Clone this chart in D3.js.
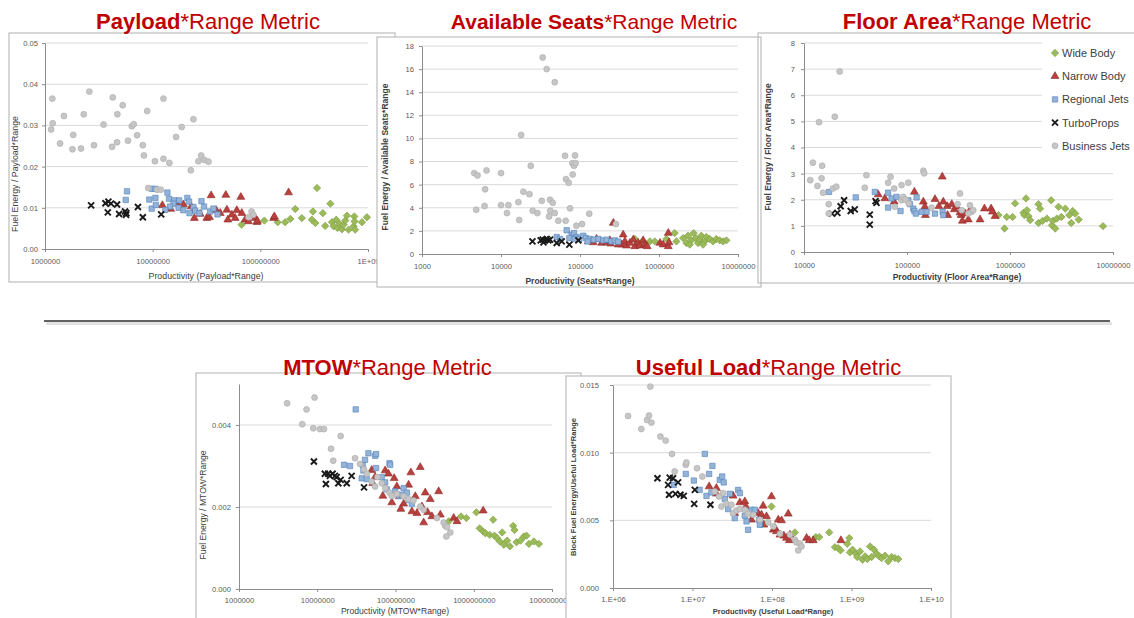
<!DOCTYPE html>
<html><head><meta charset="utf-8">
<script src="https://cdn.jsdelivr.net/npm/d3@7"></script>
<style>
body{margin:0;background:#fff;}
svg{display:block;font-family:"Liberation Sans",Arial,sans-serif;}
</style>
</head><body>
<svg id="c" width="1134" height="618"></svg>
<script>
// ---------- DATA: [productivity, fuel energy / productivity] ----------
const seriesNames = ["Wide Body","Narrow Body","Regional Jets","TurboProps","Business Jets"];

// Payload*Range
const payloadWide = [[6.7e7,0.0059],[1.09e8,0.0069],[1.45e8,0.0065],[1.7e8,0.0065],[1.9e8,0.0073],[2.11e8,0.0097],[2.43e8,0.0075],[3.01e8,0.0071],[3.08e8,0.0091],[3.24e8,0.0063],[3.36e8,0.0148],[3.81e8,0.0087],[4.0e8,0.0056],[4.47e8,0.011],[4.62e8,0.0065],[4.79e8,0.0055],[5.07e8,0.0071],[5.22e8,0.0051],[5.45e8,0.0061],[5.73e8,0.0048],[5.93e8,0.0059],[6.15e8,0.0069],[6.37e8,0.0081],[6.6e8,0.0047],[7.35e8,0.0055],[7.46e8,0.0079],[7.5e8,0.0067],[7.6e8,0.0047],[8.79e8,0.0065],[9.77e8,0.0077]];
const payloadNarrow = [[1.23e7,0.0106],[1.47e7,0.0097],[1.67e7,0.0113],[1.93e7,0.0108],[2.28e7,0.0103],[2.48e7,0.0094],[2.44e7,0.0075],[2.76e7,0.0085],[3.18e7,0.0075],[3.37e7,0.0077],[3.49e7,0.013],[3.89e7,0.0094],[4.24e7,0.0087],[4.78e7,0.0131],[4.89e7,0.0095],[4.99e7,0.0071],[5.44e7,0.0083],[5.84e7,0.0075],[6.05e7,0.0094],[6.59e7,0.0126],[6.73e7,0.0087],[7.23e7,0.0071],[7.76e7,0.0067],[8.95e7,0.0075],[9.3e7,0.0065],[9.4e7,0.0068],[1.33e8,0.0075],[1.35e8,0.0079],[1.83e8,0.0137]];
const payloadRegional = [[5.78e6,0.014],[5.62e6,0.0119],[9.3e6,0.012],[1.06e7,0.0124],[9.9e6,0.0146],[1.06e7,0.0146],[9.8e6,0.0098],[1.07e7,0.0107],[1.37e7,0.0137],[1.42e7,0.0122],[1.59e7,0.0118],[1.76e7,0.0118],[1.56e7,0.011],[1.45e7,0.0103],[1.31e7,0.0095],[1.74e7,0.01],[1.93e7,0.0094],[2.1e7,0.0124],[2.18e7,0.0115],[2.39e7,0.0102],[2.48e7,0.0093],[2.84e7,0.0116],[3.0e7,0.0103],[3.42e7,0.0091],[3.67e7,0.0098],[4.0e7,0.0084],[2.2e7,0.0087],[2.72e7,0.0087]];
const payloadTurbo = [[2.68e6,0.0106],[3.64e6,0.0111],[3.88e6,0.0115],[4.1e6,0.011],[3.83e6,0.0089],[4.67e6,0.0108],[4.88e6,0.0085],[5.54e6,0.0091],[5.66e6,0.0083],[5.7e6,0.0087],[7.3e6,0.0102],[8.1e6,0.0077],[1.2e7,0.0084]];
const payloadBusiness = [[1.14e6,0.029],[1.17e6,0.0365],[1.18e6,0.0305],[1.38e6,0.0256],[1.5e6,0.0323],[1.8e6,0.0242],[1.83e6,0.0277],[2.16e6,0.0244],[2.29e6,0.0327],[2.58e6,0.0382],[2.85e6,0.0252],[3.5e6,0.0302],[4.2e6,0.0248],[4.26e6,0.0368],[4.67e6,0.0259],[4.7e6,0.0327],[5.27e6,0.0349],[5.9e6,0.0263],[6.4e6,0.0298],[6.67e6,0.0303],[7.17e6,0.0276],[8.1e6,0.0252],[8.3e6,0.0227],[8.9e6,0.0335],[1.05e7,0.0213],[1.26e7,0.0365],[1.26e7,0.0219],[1.43e7,0.0209],[1.65e7,0.0272],[1.86e7,0.0296],[2.26e7,0.0191],[2.39e7,0.0315],[2.66e7,0.0213],[2.82e7,0.0227],[3.02e7,0.0216],[3.3e7,0.0212],[9.1e6,0.0148],[1.1e7,0.0144],[1.19e7,0.0144],[8.3e7,0.0091],[8.6e7,0.0083],[7.76e7,0.0077]];

// Available Seats*Range
const seatsWide = [[4.95e5,1.3],[6.19e5,1.09],[7.66e5,1.09],[8.86e5,1.09],[1.24e6,1.3],[1.58e6,1.81],[1.66e6,1.09],[2.02e6,1.38],[2.22e6,0.95],[2.33e6,1.58],[2.57e6,1.18],[2.75e6,1.81],[2.92e6,1.38],[3.12e6,0.95],[3.28e6,1.24],[3.44e6,1.58],[3.79e6,1.09],[3.98e6,1.47],[4.39e6,1.3],[4.83e6,1.09],[5.32e6,1.3],[5.86e6,1.18],[6.47e6,1.09],[7.13e6,1.18],[2.45e6,0.81],[3.61e6,0.81]];
const seatsNarrow = [[1.27e5,1.09],[1.47e5,1.0],[1.62e5,1.3],[1.88e5,0.95],[2.17e5,1.0],[2.44e5,0.89],[2.64e5,2.68],[3.36e5,0.81],[3.52e5,1.67],[3.7e5,1.09],[3.88e5,0.72],[4.28e5,0.95],[4.72e5,1.24],[4.95e5,0.66],[5.46e5,0.95],[5.73e5,0.72],[6.31e5,1.18],[6.62e5,0.81],[7.09e5,0.66],[1.03e6,0.95],[1.13e6,0.81],[1.31e6,1.81],[1.31e6,0.66],[1.34e6,1.0],[2.39e5,1.18],[3.05e5,0.81]];
const seatsRegional = [[5.07e4,1.47],[5.59e4,1.3],[6.79e4,2.05],[7.85e4,1.67],[8.4e4,1.81],[9.07e4,1.47],[9.8e4,1.3],[1.1e5,1.58],[1.19e5,1.38],[1.34e5,1.3],[1.5e5,1.24],[1.71e5,1.3],[1.97e5,1.18],[2.17e5,1.24],[2.51e5,1.09],[2.77e5,1.18],[3.05e5,1.07],[7.33e4,1.38],[8.65e4,1.3],[1.25e5,1.09]];
const seatsTurbo = [[2.5e4,1.09],[3.18e4,1.18],[3.37e4,1.24],[3.61e4,1.18],[3.79e4,1.3],[3.98e4,1.18],[4.18e4,1.24],[5.07e4,0.95],[5.87e4,1.09],[7.33e4,0.81],[9.53e4,1.18],[3.45e4,1.0]];
const seatsBusiness = [[4.58e3,7.0],[5.05e3,6.8],[4.86e3,3.83],[6.3e3,5.6],[6.56e3,7.23],[6.19e3,4.15],[1.0e4,7.0],[1.0e4,4.23],[1.19e4,3.54],[1.24e4,4.23],[1.66e4,4.49],[1.7e4,2.94],[1.8e4,10.3],[1.92e4,5.39],[2.29e4,5.18],[2.38e4,7.63],[2.52e4,3.74],[2.89e4,3.54],[3.28e4,4.6],[3.37e4,17.0],[3.79e4,16.0],[4.06e4,3.25],[4.18e4,4.69],[4.2e4,3.74],[4.52e4,4.43],[4.79e4,14.86],[4.79e4,3.54],[5.32e4,2.88],[6.47e4,8.5],[6.59e4,2.88],[6.65e4,6.48],[7.19e4,6.16],[7.48e4,3.95],[8.0e4,7.86],[8.08e4,6.88],[8.4e4,7.63],[8.65e4,8.53],[8.8e4,7.86],[9.0e4,2.45],[1.06e5,2.59],[1.31e5,3.49],[2.85e5,2.59]];

// Floor Area*Range
const floorWide = [[7.73e5,1.41],[8.84e5,0.9],[9.3e5,1.34],[1.06e6,1.34],[1.12e6,1.86],[1.35e6,1.5],[1.38e6,1.41],[1.43e6,2.05],[1.46e6,1.6],[1.51e6,1.37],[1.57e6,1.22],[1.89e6,1.83],[1.96e6,1.66],[1.89e6,1.11],[2.07e6,1.19],[2.28e6,1.28],[2.51e6,1.98],[2.55e6,1.02],[2.61e6,1.19],[2.75e6,0.9],[2.85e6,1.28],[2.96e6,1.73],[3.15e6,1.34],[3.44e6,1.66],[3.76e6,1.41],[3.93e6,1.11],[4.05e6,1.57],[4.3e6,1.47],[4.64e6,1.24],[8.0e6,0.99]];
const floorNarrow = [[5.25e4,2.2],[6.1e4,2.05],[7.51e4,1.92],[1.18e5,2.3],[1.44e5,1.92],[1.49e5,1.73],[1.51e5,1.41],[1.87e5,2.02],[2.04e5,1.75],[2.2e5,2.88],[2.25e5,1.92],[2.46e5,1.75],[2.48e5,1.41],[2.72e5,1.83],[2.88e5,1.63],[3.04e5,1.73],[3.27e5,1.51],[3.35e5,1.41],[3.45e5,1.19],[3.66e5,1.47],[3.94e5,1.24],[4.09e5,1.6],[5.12e5,1.24],[5.65e5,1.66],[6.55e5,1.66],[6.75e5,1.54],[7.16e5,1.37]];
const floorRegional = [[1.75e4,2.3],[3.18e4,2.09],[4.87e4,2.3],[6.56e4,2.27],[6.56e4,1.7],[7.08e4,2.05],[7.91e4,2.11],[8.65e4,1.57],[1.03e5,1.98],[1.07e5,1.83],[1.15e5,1.66],[1.24e5,2.09],[1.18e5,1.57],[1.22e5,1.47],[1.39e5,1.54],[1.55e5,1.54],[1.87e5,1.47],[2.22e5,1.54],[2.25e5,1.41]];
const floorTurbo = [[1.87e4,1.47],[2.11e4,1.5],[2.27e4,1.75],[2.45e4,1.98],[2.84e4,1.57],[3.11e4,1.63],[4.35e4,1.43],[4.35e4,1.05],[4.95e4,1.95],[5.06e4,1.88]];
const floorBusiness = [[1.15e4,2.75],[1.22e4,3.42],[1.35e4,2.53],[1.4e4,4.97],[1.48e4,2.82],[1.5e4,3.3],[1.53e4,2.27],[1.74e4,1.83],[1.74e4,1.47],[1.91e4,2.43],[1.99e4,5.18],[2.06e4,2.5],[2.22e4,6.91],[3.89e4,2.46],[4.04e4,2.94],[6.56e4,2.65],[6.92e4,2.88],[7.51e4,2.43],[8.85e4,2.56],[8.85e4,1.98],[9.18e4,2.11],[9.68e4,2.01],[1.03e5,2.65],[1.04e5,1.86],[1.44e5,3.11],[1.47e5,3.01],[1.73e5,1.69],[3.27e5,2.24],[3.1e5,1.83],[3.4e5,1.6],[4.09e5,1.79],[4.25e5,1.54],[4.4e5,1.6],[3.94e5,1.47],[7.62e4,1.73]];

// MTOW*Range
const mtowWide = [[4.78e8,0.00165],[6.88e8,0.00177],[8.05e8,0.00173],[1.08e9,0.00187],[1.19e9,0.00148],[1.32e9,0.0014],[1.41e9,0.00136],[1.6e9,0.00132],[1.77e9,0.00169],[1.84e9,0.0013],[1.99e9,0.00124],[2.15e9,0.00116],[2.31e9,0.00138],[2.43e9,0.00108],[2.67e9,0.00118],[2.9e9,0.00104],[3.19e9,0.00154],[3.32e9,0.00144],[3.52e9,0.00114],[3.96e9,0.00118],[4.37e9,0.00128],[4.73e9,0.0013],[5.07e9,0.0011],[5.87e9,0.00116],[6.81e9,0.0011]];
const mtowNarrow = [[4.97e7,0.0029],[5.12e7,0.00258],[5.49e7,0.00273],[6.89e7,0.00227],[7.38e7,0.00289],[8.13e7,0.00281],[8.97e7,0.00211],[9.62e7,0.0027],[1.04e8,0.0025],[1.12e8,0.00226],[1.17e8,0.00195],[1.27e8,0.00208],[1.47e8,0.00254],[1.57e8,0.00284],[1.62e8,0.00189],[1.79e8,0.00226],[1.88e8,0.00185],[2.07e8,0.00297],[2.18e8,0.00201],[2.29e8,0.00162],[2.4e8,0.00235],[2.57e8,0.00187],[2.78e8,0.00219],[2.92e8,0.00177],[3.56e8,0.00238],[3.74e8,0.00181],[5.54e8,0.00173],[6.11e8,0.00165],[1.32e9,0.00191]];
const mtowRegional = [[3.1e7,0.00438],[2.2e7,0.00303],[2.62e7,0.003],[3.81e7,0.00303],[4.08e7,0.00315],[4.51e7,0.00331],[5.49e7,0.00325],[5.65e7,0.00329],[5.65e7,0.00295],[3.89e7,0.00289],[3.7e7,0.0027],[4.29e7,0.00268],[6.68e7,0.00273],[7.38e7,0.0026],[8.38e7,0.00307],[8.55e7,0.00303],[7.74e7,0.00243],[9.9e7,0.00238],[1.12e8,0.00227],[1.27e8,0.00246],[1.4e8,0.00235],[1.47e8,0.00217],[1.62e8,0.00208],[1.21e8,0.0023]];
const mtowTurbo = [[9.06e6,0.00311],[1.25e7,0.00281],[1.29e7,0.00256],[1.38e7,0.00281],[1.45e7,0.00276],[1.57e7,0.00281],[1.68e7,0.00276],[1.77e7,0.00273],[1.86e7,0.00258],[1.99e7,0.00266],[2.38e7,0.00258],[2.75e7,0.00276],[3.96e7,0.00248]];
const mtowBusiness = [[4.12e6,0.00453],[6.43e6,0.00402],[7.3e6,0.00438],[8.89e6,0.00392],[9.24e6,0.00467],[1.08e7,0.0039],[1.22e7,0.0039],[1.5e7,0.00342],[1.6e7,0.00313],[1.99e7,0.00373],[3.04e7,0.00319],[3.52e7,0.00305],[3.96e7,0.00292],[4.29e7,0.00281],[4.97e7,0.00262],[5.49e7,0.0025],[5.88e7,0.00273],[6.68e7,0.00258],[7.38e7,0.00246],[8.38e7,0.00235],[8.97e7,0.00227],[1.04e8,0.00232],[1.27e8,0.00226],[1.47e8,0.00219],[1.7e8,0.00216],[2.07e8,0.00201],[2.29e8,0.00193],[3.39e8,0.00173],[4.12e8,0.00162],[4.33e8,0.00154],[4.55e8,0.00151],[5.02e8,0.00138],[4.46e8,0.00128]];

// Useful Load*Range
const usefulWide = [[9.86e7,0.00602],[1.94e8,0.00411],[3.56e8,0.00376],[3.93e8,0.00376],[5.25e8,0.00411],[6.18e8,0.00302],[6.81e8,0.00295],[7.28e8,0.00278],[8.85e8,0.00327],[9.37e8,0.00369],[9.55e8,0.00263],[1.03e9,0.00283],[1.14e9,0.00253],[1.18e9,0.00229],[1.28e9,0.0027],[1.38e9,0.00209],[1.48e9,0.00234],[1.58e9,0.00214],[1.71e9,0.00307],[1.79e9,0.00229],[1.92e9,0.00283],[2.07e9,0.00253],[2.24e9,0.00234],[2.39e9,0.00221],[2.64e9,0.00239],[2.9e9,0.00197],[3.2e9,0.00229],[3.52e9,0.00221],[3.88e9,0.00214]];
const usefulNarrow = [[1.62e7,0.0075],[2.0e7,0.00738],[2.0e7,0.00696],[3.24e7,0.00681],[3.4e7,0.00553],[3.94e7,0.00632],[4.55e7,0.00639],[4.69e7,0.00602],[5.52e7,0.00504],[6.7e7,0.00553],[7.38e7,0.00541],[7.74e7,0.00607],[7.89e7,0.00467],[8.53e7,0.00529],[9.86e7,0.00676],[1.04e8,0.0043],[1.09e8,0.00443],[1.14e8,0.00418],[1.2e8,0.00504],[1.26e8,0.00393],[1.32e8,0.00499],[1.41e8,0.00386],[1.52e8,0.00369],[1.6e8,0.00548],[1.65e8,0.00352],[1.68e8,0.00393],[2.72e8,0.00369],[2.94e8,0.00352],[3.3e8,0.00352],[7.36e8,0.00352]];
const usefulRegional = [[5.81e6,0.00762],[8.23e6,0.00843],[1.04e7,0.00794],[1.23e7,0.00725],[1.43e7,0.00991],[1.5e7,0.00681],[1.62e7,0.00843],[1.78e7,0.00902],[1.73e7,0.00706],[2.2e7,0.00799],[2.36e7,0.00824],[2.47e7,0.0078],[2.55e7,0.00657],[2.81e7,0.00583],[2.95e7,0.00696],[3.4e7,0.00516],[3.75e7,0.00725],[3.94e7,0.00701],[4.55e7,0.00534],[4.78e7,0.00492],[5.01e7,0.0043],[5.52e7,0.00578],[6.08e7,0.00578],[6.89e7,0.00504],[7.03e7,0.00467]];
const usefulTurbo = [[3.62e6,0.00811],[4.93e6,0.00762],[5.07e6,0.00689],[5.17e6,0.00816],[5.69e6,0.00811],[6.1e6,0.00696],[6.58e6,0.0078],[7.05e6,0.00689],[7.76e6,0.00681],[1.07e7,0.00725],[1.05e7,0.00622],[1.68e7,0.00615]];
const usefulBusiness = [[1.55e6,0.01271],[2.27e6,0.01175],[2.68e6,0.01242],[2.84e6,0.01274],[2.95e6,0.01488],[3.04e6,0.01222],[3.95e6,0.01119],[4.6e6,0.01089],[5.53e6,0.00991],[5.97e6,0.00861],[8.23e6,0.0091],[8.38e6,0.00927],[1.14e7,0.00885],[1.33e7,0.00824],[1.91e7,0.00713],[2.16e7,0.00676],[2.31e7,0.00602],[2.43e7,0.00701],[2.67e7,0.00622],[3.09e7,0.00615],[3.24e7,0.00553],[3.57e7,0.00573],[3.94e7,0.00583],[4.55e7,0.00578],[5.01e7,0.00548],[5.8e7,0.00541],[7.03e7,0.00504],[8.95e7,0.00484],[1.04e8,0.00455],[1.26e8,0.00401],[1.68e8,0.00393],[1.94e8,0.00357],[2.03e8,0.00337],[2.14e8,0.00278],[2.24e8,0.00327],[2.35e8,0.00307]];

// Tick labels
const payloadXLabels = ["1000000","10000000","100000000","1E+09"];
const payloadYTicks = [0,0.01,0.02,0.03,0.04,0.05];
const seatsXLabels = ["1000","10000","100000","1000000","10000000"];
const seatsYTicks = [0,2,4,6,8,10,12,14,16,18];
const floorXLabels = ["10000","100000","1000000","10000000"];
const floorYTicks = [0,1,2,3,4,5,6,7,8];
const mtowXLabels = ["1000000","10000000","100000000","1000000000","10000000000"];
const mtowYTicks = [0,0.002,0.004];
const usefulXLabels = ["1.E+06","1.E+07","1.E+08","1.E+09","1.E+10"];
const usefulYTicks = [0,0.005,0.010,0.015];

// ---------- RENDER ----------
const svg = d3.select("#c");
const styles = [
  {type:"diamond", fill:"#9bbb59", stroke:"#7f9c45"},
  {type:"triangle", fill:"#b8403d", stroke:"#8e2a28"},
  {type:"square", fill:"#95b3d7", stroke:"#4f81bd"},
  {type:"x", fill:"none", stroke:"#1a1a1a"},
  {type:"circle", fill:"#c6c6c6", stroke:"#a9a9a9"}
];
const symPaths = {
  diamond: d3.symbol(d3.symbolSquare, 27)(),
  triangle: d3.symbol(d3.symbolTriangle, 27)(),
  square: d3.symbol(d3.symbolSquare, 29)(),
  circle: d3.symbol(d3.symbolCircle, 28)(),
  x: "M-3,-3L3,3M-3,3L3,-3"
};
function marker(g, si, px, py){
  const s = styles[si];
  const p = g.append("path").attr("d", symPaths[s.type])
    .attr("transform", `translate(${px},${py})` + (s.type==="diamond"?" rotate(45)":""))
    .attr("fill", s.fill).attr("stroke", s.stroke);
  if (s.type==="x") p.attr("stroke-width",1.9);
  else p.attr("stroke-width",0.6);
}

const panels = [
  {title:["Payload","*Range Metric"], fs:22, tx:208, ty:29,
   box:[9,33,386,249], fill:false, px:[45,368], py:[249,43],
   xd:[1e6,1e9], yd:[0,0.05], yt:payloadYTicks, yf:d=>d.toFixed(2), xl:payloadXLabels,
   ypad:4, xpad:7, ylab:"Fuel Energy / Payload*Range", ylx:15, yly:174, xlab:"Productivity (Payload*Range)", xlx:206, xly:279, labFs:8.8, labW:"normal",
   data:[payloadWide,payloadNarrow,payloadRegional,payloadTurbo,payloadBusiness]},
  {title:["Available Seats","*Range Metric"], fs:21, tx:594, ty:29,
   box:[377,37,384,250], fill:true, px:[422,738], py:[254,46],
   xd:[1e3,1e7], yd:[0,18], yt:seatsYTicks, yf:d=>String(d), xl:seatsXLabels,
   ypad:5, xpad:7, ylab:"Fuel Energy / Available Seats*Range", ylx:385, yly:157, xlab:"Productivity (Seats*Range)", xlx:580, xly:284, labFs:8.5, labW:"600",
   data:[seatsWide,seatsNarrow,seatsRegional,seatsTurbo,seatsBusiness]},
  {title:["Floor Area","*Range Metric"], fs:22, tx:967, ty:29,
   box:[758,33,380,250], fill:false, px:[804,1113], py:[252,43],
   xd:[1e4,1e7], yd:[0,8], yt:floorYTicks, yf:d=>String(d), xl:floorXLabels,
   ypad:6, xpad:8, ylab:"Fuel Energy / Floor Area*Range", ylx:768, yly:147, xlab:"Productivity (Floor Area*Range)", xlx:957, xly:280, labFs:8.5, labW:"600",
   data:[floorWide,floorNarrow,floorRegional,floorTurbo,floorBusiness], legend:true},
  {title:["MTOW","*Range Metric"], fs:22, tx:387.5, ty:375,
   box:[196,373,385,270], fill:false, px:[239,552], py:[589,384],
   xd:[1e6,1e10], yd:[0,0.005], yt:mtowYTicks, yf:d=>d.toFixed(3), xl:mtowXLabels,
   ypad:5, xpad:6, ylab:"Fuel Energy / MTOW*Range", ylx:203, yly:505, xlab:"Productivity (MTOW*Range)", xlx:395, xly:614, labFs:8.6, labW:"normal",
   data:[mtowWide,mtowNarrow,mtowRegional,mtowTurbo,mtowBusiness]},
  {title:["Useful Load","*Range Metric"], fs:22, tx:768.5, ty:375,
   box:[566,376,385,270], fill:true, px:[613,931], py:[588,385],
   xd:[1e6,1e10], yd:[0,0.015], yt:usefulYTicks, yf:d=>d.toFixed(3), xl:usefulXLabels,
   ypad:11, xpad:6, ylab:"Block Fuel Energy/Useful Load*Range", ylx:573, yly:487, xlab:"Productivity (Useful Load*Range)", xlx:773, xly:614, labFs:7.6, labW:"bold",
   data:[usefulWide,usefulNarrow,usefulRegional,usefulTurbo,usefulBusiness]}
];

function drawPanel(p){
  const g = svg.append("g");
  g.append("rect").attr("x",p.box[0]).attr("y",p.box[1]).attr("width",p.box[2]).attr("height",p.box[3])
    .attr("fill", p.fill?"#fff":"none").attr("stroke","#bdbdbd").attr("stroke-width",1.2);
  const x = d3.scaleLog().domain(p.xd).range(p.px);
  const y = d3.scaleLinear().domain(p.yd).range(p.py);
  // gridlines
  g.selectAll(null).data(p.yt.filter(v=>v>0)).join("line")
    .attr("x1",p.px[0]).attr("x2",p.px[1]).attr("y1",d=>y(d)).attr("y2",d=>y(d))
    .attr("stroke","#dadada").attr("stroke-width",1);
  // x axis
  const decades = [];
  for (let v=p.xd[0]; v<=p.xd[1]*1.0001; v*=10) decades.push(v);
  const xa = d3.axisBottom(x).tickValues(decades).tickFormat((d,i)=>p.xl[i]).tickSize(3).tickSizeOuter(0).tickPadding(p.xpad);
  const gx = g.append("g").attr("transform",`translate(0,${p.py[0]})`).call(xa);
  // y axis
  const ya = d3.axisLeft(y).tickValues(p.yt).tickFormat(p.yf).tickSize(3).tickSizeOuter(0).tickPadding(p.ypad);
  const gy = g.append("g").attr("transform",`translate(${p.px[0]},0)`).call(ya);
  [gx,gy].forEach(a=>{
    a.attr("font-family",'"Liberation Sans",Arial,sans-serif').attr("font-size",7.6);
    a.selectAll("path,line").attr("stroke","#8c8c8c");
    a.selectAll("text").attr("fill","#595959");
  });
  // axis titles
  g.append("text").attr("transform",`translate(${p.ylx},${p.yly}) rotate(-90)`)
    .attr("text-anchor","middle").attr("dominant-baseline","central")
    .attr("font-size",p.labFs).attr("font-weight",p.labW).attr("fill","#404040").text(p.ylab);
  g.append("text").attr("x",p.xlx).attr("y",p.xly).attr("text-anchor","middle")
    .attr("font-size",p.labFs).attr("font-weight",p.labW).attr("fill","#404040").text(p.xlab);
  // markers
  const mg = g.append("g");
  p.data.forEach((arr,si)=>arr.forEach(d=>marker(mg, si, x(d[0]), y(d[1]))));
  // legend
  if (p.legend){
    const lg = g.append("g");
    lg.append("rect").attr("x",1042).attr("y",40).attr("width",92).attr("height",118).attr("fill","#fff");
    seriesNames.forEach((n,i)=>{
      const yy = 53 + i*23.2;
      marker(lg, i, 1055, yy);
      lg.append("text").attr("x",1062).attr("y",yy).attr("dominant-baseline","central")
        .attr("font-size",11).attr("fill","#404040").text(n);
    });
  }
}
panels.forEach(drawPanel);

// titles
panels.forEach(p=>{
  const t = svg.append("text").attr("x",p.tx).attr("y",p.ty).attr("text-anchor","middle")
    .attr("font-size",p.fs).attr("fill","#c00000");
  t.append("tspan").attr("font-weight","bold").text(p.title[0]);
  t.append("tspan").text(p.title[1]);
});

// separator line with shadow
svg.append("line").attr("x1",46).attr("x2",1112).attr("y1",323.5).attr("y2",323.5).attr("stroke","#e3e3e3").attr("stroke-width",3);
svg.append("line").attr("x1",44).attr("x2",1110).attr("y1",321).attr("y2",321).attr("stroke","#2e2e2e").attr("stroke-width",1.5);
</script>
</body></html>
